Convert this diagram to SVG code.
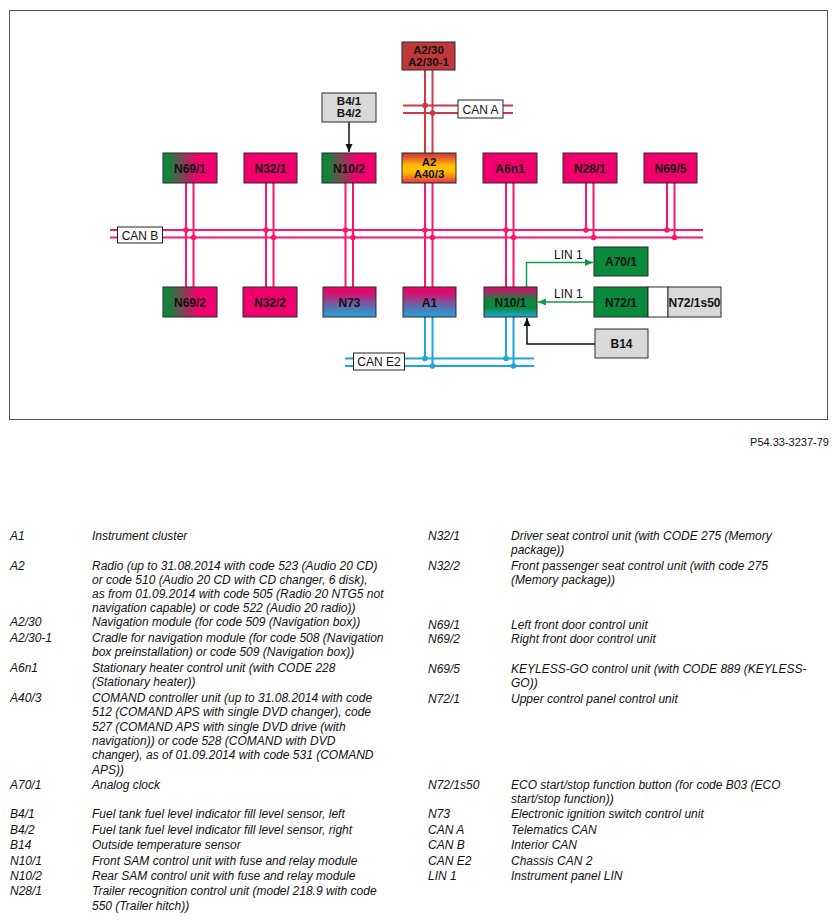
<svg xmlns="http://www.w3.org/2000/svg" width="837" height="922" viewBox="0 0 837 922">
<style>
.box{stroke:#2a2a2a;stroke-width:1}
.nt{font-family:"Liberation Sans",Arial,sans-serif;font-size:12px;font-weight:bold;fill:#111;text-anchor:middle}
.nt2{font-family:"Liberation Sans",Arial,sans-serif;font-size:11.5px;font-weight:bold;fill:#111;text-anchor:middle}
.lb{font-family:"Liberation Sans",Arial,sans-serif;font-size:12px;fill:#111}
.lg{font-family:"Liberation Sans",Arial,sans-serif;font-size:12px;font-style:italic;fill:#111}
.pk{stroke:#ff1470;stroke-width:2;fill:none}
.rd{stroke:#cc3a48;stroke-width:2;fill:none}
.bl{stroke:#1ea6d6;stroke-width:2;fill:none}
.gn{stroke:#119a44;stroke-width:1.5;fill:none}
.bk{stroke:#111;stroke-width:1.5;fill:none}
.dpk{fill:#ff1470}
.drd{fill:#cc3a48}
.dbl{fill:#1ea6d6}
.tag{fill:#fff;stroke:#222;stroke-width:1}
</style>
<defs>
<linearGradient id="gGP" x1="0" y1="0" x2="1" y2="0">
<stop offset="0" stop-color="#0a8a3c"/><stop offset="0.12" stop-color="#1a7f3c"/><stop offset="0.65" stop-color="#f0006c"/><stop offset="1" stop-color="#f0006c"/>
</linearGradient>
<linearGradient id="gPB" x1="0" y1="0" x2="0" y2="1">
<stop offset="0" stop-color="#f0006c"/><stop offset="0.2" stop-color="#d8106e"/><stop offset="0.6" stop-color="#6a64a8"/><stop offset="1" stop-color="#1ea6d6"/>
</linearGradient>
<linearGradient id="gN10" x1="0" y1="0" x2="0" y2="1">
<stop offset="0" stop-color="#e8006c"/><stop offset="0.2" stop-color="#8a3c5c"/><stop offset="0.45" stop-color="#0a8a3c"/><stop offset="0.68" stop-color="#0a8a3c"/><stop offset="1" stop-color="#1ea6d6"/>
</linearGradient>
<linearGradient id="gA2" x1="0" y1="0" x2="0" y2="1">
<stop offset="0" stop-color="#c8303c"/><stop offset="0.2" stop-color="#ec6a28"/><stop offset="0.42" stop-color="#ffc000"/><stop offset="0.62" stop-color="#ffc000"/><stop offset="0.82" stop-color="#f07a20"/><stop offset="1" stop-color="#dc2a58"/>
</linearGradient>
<marker id="aG" viewBox="0 0 8 8" refX="8" refY="4" markerWidth="8" markerHeight="8" markerUnits="userSpaceOnUse" orient="auto">
<path d="M0,0.5 L8,4 L0,7.5 Z" fill="#119a44"/>
</marker>
<marker id="aK" viewBox="0 0 8 8" refX="8" refY="4" markerWidth="8" markerHeight="8" markerUnits="userSpaceOnUse" orient="auto">
<path d="M0,0.5 L8,4 L0,7.5 Z" fill="#111"/>
</marker>
</defs>

<rect x="9.5" y="10.5" width="818" height="409" fill="#fff" stroke="#555" stroke-width="1"/>

<g id="connectors">
<line class="pk" x1="110" y1="230" x2="703" y2="230"/>
<line class="pk" x1="110" y1="237.5" x2="703" y2="237.5"/>
<line class="pk" x1="186" y1="183" x2="186" y2="287"/><line class="pk" x1="193.5" y1="183" x2="193.5" y2="287"/>
<line class="pk" x1="266" y1="183" x2="266" y2="287"/><line class="pk" x1="273.5" y1="183" x2="273.5" y2="287"/>
<line class="pk" x1="345.5" y1="183" x2="345.5" y2="287"/><line class="pk" x1="353" y1="183" x2="353" y2="287"/>
<line class="pk" x1="425" y1="183" x2="425" y2="287"/><line class="pk" x1="432.5" y1="183" x2="432.5" y2="287"/>
<line class="pk" x1="506" y1="183" x2="506" y2="287"/><line class="pk" x1="513.5" y1="183" x2="513.5" y2="287"/>
<line class="pk" x1="586" y1="183" x2="586" y2="230"/><line class="pk" x1="593.5" y1="183" x2="593.5" y2="237.5"/>
<line class="pk" x1="667" y1="183" x2="667" y2="230"/><line class="pk" x1="674.5" y1="183" x2="674.5" y2="237.5"/>
<g>
<circle class="dpk" cx="186" cy="230" r="2.8"/><circle class="dpk" cx="193.5" cy="237.5" r="2.8"/>
<circle class="dpk" cx="266" cy="230" r="2.8"/><circle class="dpk" cx="273.5" cy="237.5" r="2.8"/>
<circle class="dpk" cx="345.5" cy="230" r="2.8"/><circle class="dpk" cx="353" cy="237.5" r="2.8"/>
<circle class="dpk" cx="425" cy="230" r="2.8"/><circle class="dpk" cx="432.5" cy="237.5" r="2.8"/>
<circle class="dpk" cx="506" cy="230" r="2.8"/><circle class="dpk" cx="513.5" cy="237.5" r="2.8"/>
<circle class="dpk" cx="586" cy="230" r="2.8"/><circle class="dpk" cx="593.5" cy="237.5" r="2.8"/>
<circle class="dpk" cx="667" cy="230" r="2.8"/><circle class="dpk" cx="674.5" cy="237.5" r="2.8"/>
</g>
<line class="rd" x1="403" y1="105.5" x2="513" y2="105.5"/>
<line class="rd" x1="403" y1="113" x2="513" y2="113"/>
<line class="rd" x1="425" y1="70" x2="425" y2="153"/>
<line class="rd" x1="432.5" y1="70" x2="432.5" y2="153"/>
<circle class="drd" cx="425" cy="105.5" r="2.8"/><circle class="drd" cx="432.5" cy="113" r="2.8"/>
<line class="bl" x1="345" y1="358.5" x2="534" y2="358.5"/>
<line class="bl" x1="345" y1="366" x2="534" y2="366"/>
<line class="bl" x1="425" y1="317" x2="425" y2="358.5"/><line class="bl" x1="432.5" y1="317" x2="432.5" y2="366"/>
<line class="bl" x1="506" y1="317" x2="506" y2="358.5"/><line class="bl" x1="513.5" y1="317" x2="513.5" y2="366"/>
<circle class="dbl" cx="425" cy="358.5" r="2.8"/><circle class="dbl" cx="432.5" cy="366" r="2.8"/>
<circle class="dbl" cx="506" cy="358.5" r="2.8"/><circle class="dbl" cx="513.5" cy="366" r="2.8"/>
<polyline class="gn" points="526.5,287 526.5,262.5 593,262.5" marker-end="url(#aG)"/>
<line class="gn" x1="594" y1="302" x2="538" y2="302" marker-end="url(#aG)"/>
<polyline class="bk" points="595,344 527,344 527,318" marker-end="url(#aK)"/>
<line class="bk" x1="349" y1="122" x2="349" y2="152" marker-end="url(#aK)"/>
<line class="bk" x1="668" y1="300" x2="649" y2="300" marker-end="url(#aK)"/>
<rect class="tag" x="117.5" y="227" width="45" height="16"/>
<text class="lb" x="140" y="239.5" text-anchor="middle">CAN B</text>
<rect class="tag" x="458" y="100" width="45" height="18"/>
<text class="lb" x="480.5" y="113.5" text-anchor="middle">CAN A</text>
<rect class="tag" x="353.5" y="353" width="51" height="17"/>
<text class="lb" x="379" y="366" text-anchor="middle">CAN E2</text>
<text class="lb" x="554" y="259">LIN 1</text>
<text class="lb" x="554" y="297.5">LIN 1</text>
</g>

<g id="A2-30"><rect class="box" x="402" y="42" width="53" height="28" fill="#c0383c"/><text class="nt2" x="428.5" y="54"><tspan x="428.5" y="54">A2/30</tspan><tspan x="428.5" y="66">A2/30-1</tspan></text></g>
<g id="B4"><rect class="box" x="322" y="93" width="54" height="29" fill="#d9d9d9"/><text class="nt2" x="349" y="105"><tspan x="349" y="105">B4/1</tspan><tspan x="349" y="117">B4/2</tspan></text></g>

<g id="N69-1"><rect class="box" x="163" y="153" width="54" height="30" fill="url(#gGP)"/><text class="nt" x="190" y="172.5">N69/1</text></g>
<g id="N32-1"><rect class="box" x="244" y="153" width="53" height="30" fill="#f0006c"/><text class="nt" x="270.5" y="172.5">N32/1</text></g>
<g id="N10-2"><rect class="box" x="322" y="153" width="54" height="30" fill="url(#gGP)"/><text class="nt" x="349" y="172.5">N10/2</text></g>
<g id="A2"><rect class="box" x="402" y="153" width="54" height="30" fill="url(#gA2)"/><text class="nt2" x="429" y="165.5"><tspan x="429" y="165.5">A2</tspan><tspan x="429" y="177.5">A40/3</tspan></text></g>
<g id="A6n1"><rect class="box" x="483" y="153" width="54" height="30" fill="#f0006c"/><text class="nt" x="510" y="172.5">A6n1</text></g>
<g id="N28-1"><rect class="box" x="563" y="153" width="54" height="30" fill="#f0006c"/><text class="nt" x="590" y="172.5">N28/1</text></g>
<g id="N69-5"><rect class="box" x="644" y="153" width="53" height="30" fill="#f0006c"/><text class="nt" x="670.5" y="172.5">N69/5</text></g>

<g id="N69-2"><rect class="box" x="163" y="287" width="54" height="30" fill="url(#gGP)"/><text class="nt" x="190" y="306.5">N69/2</text></g>
<g id="N32-2"><rect class="box" x="243" y="287" width="54" height="30" fill="#f0006c"/><text class="nt" x="270" y="306.5">N32/2</text></g>
<g id="N73"><rect class="box" x="323" y="287" width="53" height="30" fill="url(#gPB)"/><text class="nt" x="349.5" y="306.5">N73</text></g>
<g id="A1"><rect class="box" x="403" y="287" width="53" height="30" fill="url(#gPB)"/><text class="nt" x="429.5" y="306.5">A1</text></g>
<g id="N10-1"><rect class="box" x="484" y="287" width="53" height="30" fill="url(#gN10)"/><text class="nt" x="510.5" y="306.5">N10/1</text></g>

<g id="A70-1"><rect class="box" x="594" y="247" width="54" height="29" fill="#0a8a3c"/><text class="nt" x="621" y="266">A70/1</text></g>
<g id="N72-1"><rect class="box" x="594" y="287" width="54" height="30" fill="#0a8a3c"/><rect class="box" x="648" y="287" width="20" height="30" fill="#fff"/><text class="nt" x="621" y="306.5">N72/1</text></g>
<g id="N72-1s50"><rect class="box" x="668" y="287" width="53" height="30" fill="#d9d9d9"/><text class="nt" x="694.5" y="306.5">N72/1s50</text></g>
<g id="B14"><rect class="box" x="595" y="329" width="53" height="29" fill="#d9d9d9"/><text class="nt" x="621.5" y="348">B14</text></g>

<text class="lb" x="829" y="446" text-anchor="end" style="font-size:11px">P54.33-3237-79</text>

<g id="legend" class="lg">
<text class="lg" x="10" y="540">A1</text><text class="lg" x="92" y="540">Instrument cluster</text>
<text class="lg" x="10" y="570">A2</text><text class="lg" x="92" y="570">Radio (up to 31.08.2014 with code 523 (Audio 20 CD)</text>
<text class="lg" x="92" y="584">or code 510 (Audio 20 CD with CD changer, 6 disk),</text>
<text class="lg" x="92" y="598">as from 01.09.2014 with code 505 (Radio 20 NTG5 not</text>
<text class="lg" x="92" y="612">navigation capable) or code 522 (Audio 20 radio))</text>
<text class="lg" x="10" y="626">A2/30</text><text class="lg" x="92" y="626">Navigation module (for code 509 (Navigation box))</text>
<text class="lg" x="10" y="642">A2/30-1</text><text class="lg" x="92" y="642">Cradle for navigation module (for code 508 (Navigation</text>
<text class="lg" x="92" y="656">box preinstallation) or code 509 (Navigation box))</text>
<text class="lg" x="10" y="672">A6n1</text><text class="lg" x="92" y="672">Stationary heater control unit (with CODE 228</text>
<text class="lg" x="92" y="686">(Stationary heater))</text>
<text class="lg" x="10" y="702">A40/3</text><text class="lg" x="92" y="702">COMAND controller unit (up to 31.08.2014 with code</text>
<text class="lg" x="92" y="716">512 (COMAND APS with single DVD changer), code</text>
<text class="lg" x="92" y="731">527 (COMAND APS with single DVD drive (with</text>
<text class="lg" x="92" y="745">navigation)) or code 528 (COMAND with DVD</text>
<text class="lg" x="92" y="759">changer), as of 01.09.2014 with code 531 (COMAND</text>
<text class="lg" x="92" y="774">APS))</text>
<text class="lg" x="10" y="789">A70/1</text><text class="lg" x="92" y="789">Analog clock</text>
<text class="lg" x="10" y="818">B4/1</text><text class="lg" x="92" y="818">Fuel tank fuel level indicator fill level sensor, left</text>
<text class="lg" x="10" y="834">B4/2</text><text class="lg" x="92" y="834">Fuel tank fuel level indicator fill level sensor, right</text>
<text class="lg" x="10" y="849">B14</text><text class="lg" x="92" y="849">Outside temperature sensor</text>
<text class="lg" x="10" y="865">N10/1</text><text class="lg" x="92" y="865">Front SAM control unit with fuse and relay module</text>
<text class="lg" x="10" y="880">N10/2</text><text class="lg" x="92" y="880">Rear SAM control unit with fuse and relay module</text>
<text class="lg" x="10" y="895">N28/1</text><text class="lg" x="92" y="895">Trailer recognition control unit (model 218.9 with code</text>
<text class="lg" x="92" y="910">550 (Trailer hitch))</text>

<text class="lg" x="428" y="540">N32/1</text><text class="lg" x="511" y="540">Driver seat control unit (with CODE 275 (Memory</text>
<text class="lg" x="511" y="554">package))</text>
<text class="lg" x="428" y="570">N32/2</text><text class="lg" x="511" y="570">Front passenger seat control unit (with code 275</text>
<text class="lg" x="511" y="584">(Memory package))</text>
<text class="lg" x="428" y="629">N69/1</text><text class="lg" x="511" y="629">Left front door control unit</text>
<text class="lg" x="428" y="643">N69/2</text><text class="lg" x="511" y="643">Right front door control unit</text>
<text class="lg" x="428" y="673">N69/5</text><text class="lg" x="511" y="673">KEYLESS-GO control unit (with CODE 889 (KEYLESS-</text>
<text class="lg" x="511" y="687">GO))</text>
<text class="lg" x="428" y="703">N72/1</text><text class="lg" x="511" y="703">Upper control panel control unit</text>
<text class="lg" x="428" y="789">N72/1s50</text><text class="lg" x="511" y="789">ECO start/stop function button (for code B03 (ECO</text>
<text class="lg" x="511" y="803">start/stop function))</text>
<text class="lg" x="428" y="818">N73</text><text class="lg" x="511" y="818">Electronic ignition switch control unit</text>
<text class="lg" x="428" y="834">CAN A</text><text class="lg" x="511" y="834">Telematics CAN</text>
<text class="lg" x="428" y="849">CAN B</text><text class="lg" x="511" y="849">Interior CAN</text>
<text class="lg" x="428" y="865">CAN E2</text><text class="lg" x="511" y="865">Chassis CAN 2</text>
<text class="lg" x="428" y="880">LIN 1</text><text class="lg" x="511" y="880">Instrument panel LIN</text>
</g>
</svg>
